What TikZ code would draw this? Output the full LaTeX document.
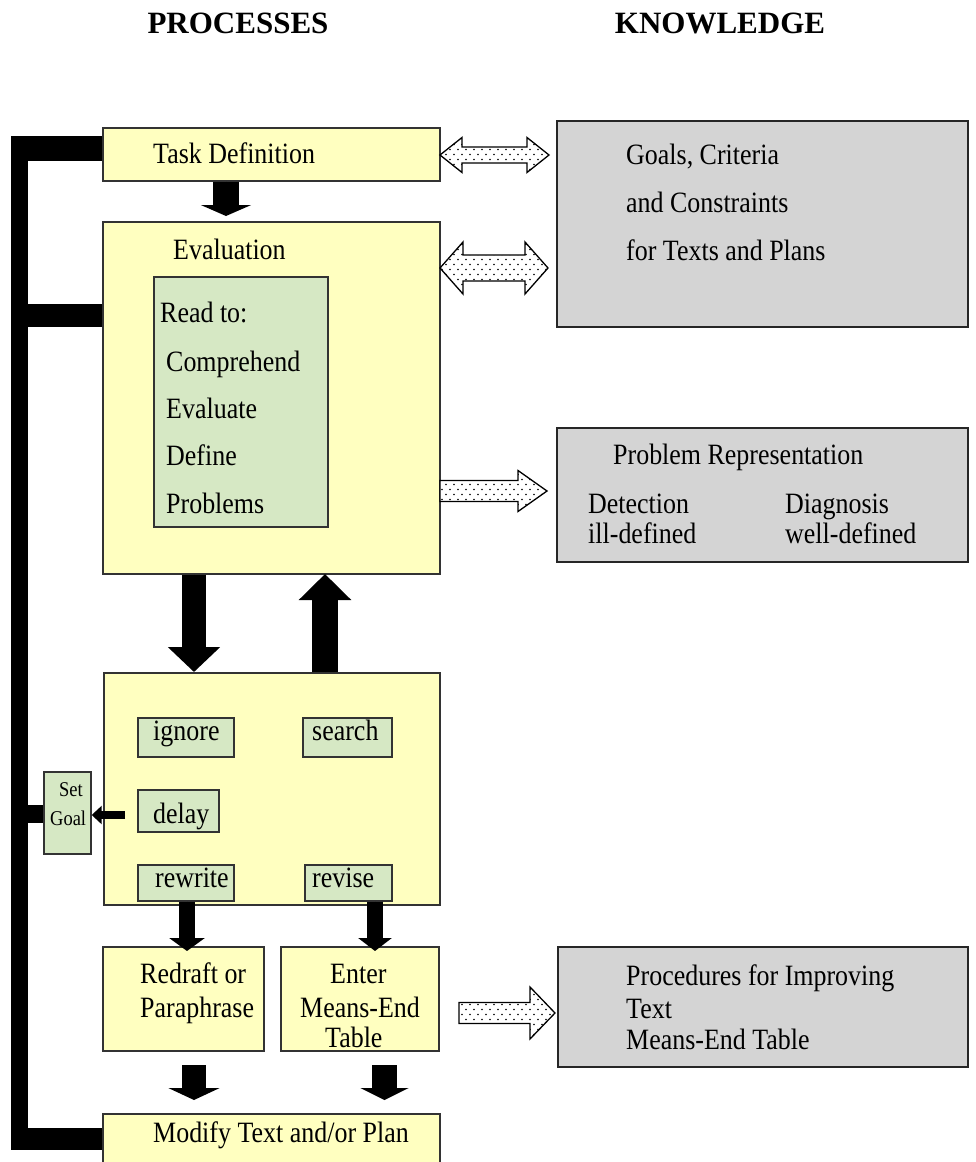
\documentclass[tikz,border=0pt]{standalone}
\usepackage{fontspec}
\setmainfont{Liberation Serif}
\newfontfamily\boxfont[FakeStretch=0.88]{Liberation Serif}
\usetikzlibrary{arrows.meta,fit,patterns,calc}

\definecolor{boxyellow}{RGB}{255,255,192}
\definecolor{boxgreen}{RGB}{214,232,196}
\definecolor{boxgray}{RGB}{212,212,212}

% staggered sparse dots for the knowledge arrows
\pgfdeclarepatternformonly{sparsedots}{\pgfqpoint{-1pt}{-1pt}}{\pgfqpoint{9pt}{11pt}}{\pgfqpoint{8pt}{10pt}}{%
  \pgfpathcircle{\pgfqpoint{2pt}{2.5pt}}{0.9pt}%
  \pgfpathcircle{\pgfqpoint{6pt}{7.5pt}}{0.9pt}%
  \pgfusepath{fill}}

\tikzset{
  ybox/.style={draw=black!80, line width=1.4pt, fill=boxyellow, inner sep=0pt},
  gbox/.style={draw=black!80, line width=1.4pt, fill=boxgreen, inner sep=0pt},
  kbox/.style={draw=black!85, line width=2pt, fill=boxgray, inner sep=0pt},
  txt/.style={font=\boxfont\fontsize{29.5}{29.5}\selectfont, inner sep=0pt, anchor=base west},
  smalltxt/.style={font=\boxfont\fontsize{21}{21}\selectfont, inner sep=0pt},
  hdr/.style={font=\bfseries\fontsize{31}{31}\selectfont, inner sep=0pt, anchor=base},
  bar/.style={draw=black, line cap=butt},
  blk/.style={draw=black, fill=black, line cap=butt},
  dotarrow/.style={draw=black, line width=1.3pt, preaction={fill=white}, pattern=sparsedots}
}

% dotted double-headed arrow: start, end, shaft half height, head half height, head length
\newcommand\dotdouble[5]{%
  \path[dotarrow] let \p1=(#1), \p2=(#2) in
    (\x1,\y1) -- (\x1+#5pt,\y1+#4pt) -- (\x1+#5pt,\y1+#3pt) -- (\x2-#5pt,\y1+#3pt)
    -- (\x2-#5pt,\y1+#4pt) -- (\x2,\y1) -- (\x2-#5pt,\y1-#4pt) -- (\x2-#5pt,\y1-#3pt)
    -- (\x1+#5pt,\y1-#3pt) -- (\x1+#5pt,\y1-#4pt) -- cycle;}
% dotted single-headed arrow
\newcommand\dotsingle[5]{%
  \path[dotarrow] let \p1=(#1), \p2=(#2) in
    (\x1,\y1+#3pt) -- (\x2-#5pt,\y1+#3pt) -- (\x2-#5pt,\y1+#4pt) -- (\x2,\y1)
    -- (\x2-#5pt,\y1-#4pt) -- (\x2-#5pt,\y1-#3pt) -- (\x1,\y1-#3pt) -- cycle;}

\begin{document}
\begin{tikzpicture}[x=1pt,y=-1pt]
\useasboundingbox (0,0) rectangle (976,1162);
\clip (0,0) rectangle (976,1162);

% column headings
\node[hdr] (hproc) at (238,33) {PROCESSES};
\node[hdr] (hknow) at (720,33) {KNOWLEDGE};

% process boxes
\node[ybox, fit={(103,128) (440,181)}] (task) {};
\node[ybox, fit={(103,222) (440,574)}] (eval) {};
\node[gbox, fit={(154,277) (328,527)}] (read) {};
\node[ybox, fit={(104,673) (440,905)}] (act) {};
\node[gbox, fit={(138,718) (234,757)}] (ignore) {};
\node[gbox, fit={(303,718) (392,757)}] (search) {};
\node[gbox, fit={(138,790) (219,832)}] (delay) {};
\node[gbox, fit={(138,865) (234,901)}] (rewrite) {};
\node[gbox, fit={(305,865) (392,901)}] (revise) {};
\node[gbox, fit={(44,772) (91,854)}] (setgoal) {};
\node[ybox, fit={(103,947) (264,1051)}] (redraft) {};
\node[ybox, fit={(281,947) (439,1051)}] (enter) {};
\node[ybox, fit={(103,1114) (440,1180)}] (modify) {};

% knowledge boxes
\node[kbox, fit={(557,121) (968,327)}] (goals) {};
\node[kbox, fit={(557,428) (968,562)}] (probrep) {};
\node[kbox, fit={(558,947) (968,1067)}] (proc) {};

% texts of the process boxes
\node[txt] (tTask) at (153,163) {Task Definition};
\node[txt] (tEval) at (173,259) {Evaluation};
\node[txt] (tRead) at (160,322) {Read to:};
\node[txt] (tComp) at (166,371) {Comprehend};
\node[txt] (tEvaluate) at (166,418) {Evaluate};
\node[txt] (tDefine) at (166,465) {Define};
\node[txt] (tProblems) at (166,513) {Problems};
\node[txt] (tIgnore) at (153,740) {ignore};
\node[txt] (tSearch) at (312,740) {search};
\node[txt] (tDelay) at (153,823) {delay};
\node[txt] (tRewrite) at (155,887) {rewrite};
\node[txt] (tRevise) at (312,887) {revise};
\node[smalltxt, anchor=base] (tSet) at (71,796) {Set};
\node[smalltxt, anchor=base west] (tGoal) at (50,825) {Goal};
\node[txt] (tRedraft) at (140,983) {Redraft or};
\node[txt] (tPara) at (140,1017) {Paraphrase};
\node[txt] (tEnter) at (330,983) {Enter};
\node[txt] (tMeans) at (300,1017) {Means-End};
\node[txt] (tTable) at (325,1047) {Table};
\node[txt] (tModify) at (153,1142) {Modify Text and/or Plan};

% texts of the knowledge boxes
\node[txt] (kGoals) at (626,164) {Goals, Criteria};
\node[txt] (kCons) at (626,212) {and Constraints};
\node[txt] (kPlans) at (626,260) {for Texts and Plans};
\node[txt] (kProb) at (613,464) {Problem Representation};
\node[txt] (kDet) at (588,513) {Detection};
\node[txt] (kIll) at (588,543) {ill-defined};
\node[txt] (kDiag) at (785,513) {Diagnosis};
\node[txt] (kWell) at (785,543) {well-defined};
\node[txt] (kProc) at (626,985) {Procedures for Improving};
\node[txt] (kText) at (626,1018) {Text};
\node[txt] (kMeans) at (626,1049) {Means-End Table};

% feedback loop from Modify back to the earlier stages
\coordinate (spT) at (19.5,136);
\coordinate (spB) at (19.5,1150);
\coordinate (armA) at (11,148.5);
\coordinate (armB) at (11,315.5);
\coordinate (armC) at (28,814);
\coordinate (armD) at (11,1139);
\draw[bar, line width=17pt] (spT) -- (spB);
\draw[bar, line width=25pt] (armA) -- (armA -| task.west);
\draw[bar, line width=23pt] (armB) -- (armB -| eval.west);
\draw[bar, line width=18pt] (armC) -- (armC -| setgoal.west);
\draw[bar, line width=22pt] (armD) -- (armD -| modify.west);

% solid block arrows between the process stages
\coordinate (a1) at (226,216);
\draw[blk, line width=26pt, -{Triangle[width=50pt,length=11pt]}] (task.south -| a1) -- (a1);
\coordinate (a2) at (194,672);
\draw[blk, line width=24pt, -{Triangle[width=51pt,length=25pt]}] (eval.south -| a2) -- (a2);
\coordinate (a3) at (325,574);
\draw[blk, line width=26pt, -{Triangle[width=51pt,length=26pt]}] (act.north -| a3) -- (a3);
\coordinate (a4) at (187,951);
\draw[blk, line width=16pt, -{Triangle[width=35pt,length=13pt]}] (rewrite.south -| a4) -- (a4);
\coordinate (a5) at (375,951);
\draw[blk, line width=16pt, -{Triangle[width=33pt,length=13pt]}] (revise.south -| a5) -- (a5);
\coordinate (a6s) at (194,1065);
\coordinate (a6) at (194,1100);
\draw[blk, line width=24pt, -{Triangle[width=51pt,length=12pt]}] (a6s) -- (a6);
\coordinate (a7s) at (384.5,1065);
\coordinate (a7) at (384.5,1100);
\draw[blk, line width=25pt, -{Triangle[width=48pt,length=12pt]}] (a7s) -- (a7);
\coordinate (a8s) at (125,815);
\draw[blk, line width=8pt, -{Triangle[width=18pt,length=10pt]}] (a8s) -- (a8s -| setgoal.east);

% dotted arrows between processes and knowledge
\coordinate (d1a) at (440,155);
\coordinate (d1b) at (549,155);
\dotdouble{d1a}{d1b}{8}{17.5}{22}
\coordinate (d2a) at (440,268);
\coordinate (d2b) at (548,268);
\dotdouble{d2a}{d2b}{13}{26}{23}
\coordinate (d3a) at (440,491);
\coordinate (d3b) at (547,491);
\dotsingle{d3a}{d3b}{10.5}{20.5}{29}
\coordinate (d4a) at (459,1013);
\coordinate (d4b) at (555,1013);
\dotsingle{d4a}{d4b}{10.5}{26}{25}
\end{tikzpicture}
\end{document}
